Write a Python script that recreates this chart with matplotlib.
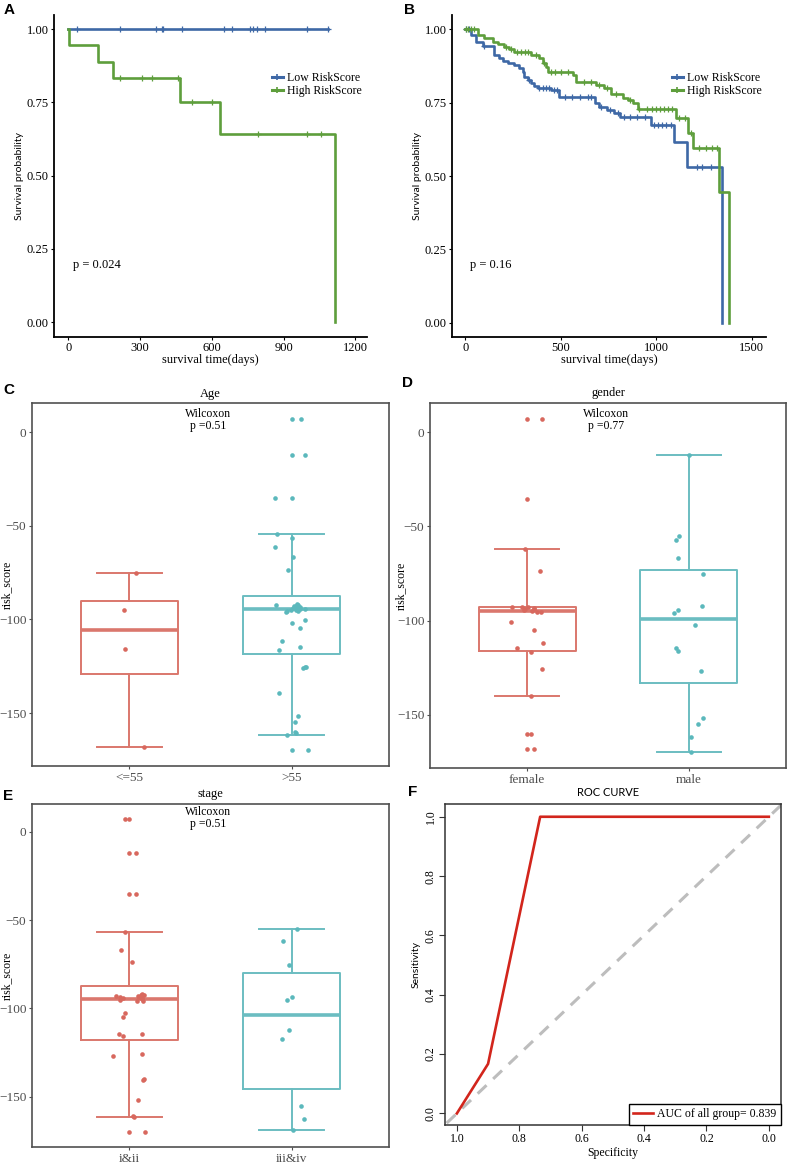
import numpy as np
import matplotlib.pyplot as plt
from matplotlib.lines import Line2D

plt.rcParams['font.family'] = ['Liberation Serif', 'DejaVu Serif']
plt.rcParams['axes.unicode_minus'] = True

W, H = 788, 1163
SANS = ['Lato', 'DejaVu Sans']
BLUE = '#3E68A6'
GREEN = '#5E9E3C'
BOX_RED = '#DA776D'
BOX_TEAL = '#6BBDC1'
PT_RED = '#D8685E'
PT_TEAL = '#5BB8BC'

# ---- A: KM, first cohort ----
a_low_t = [0, 1086]
a_low_s = [1.0, 1.0]
a_low_cens = [35, 218, 368, 393, 396, 476, 653, 683, 760, 774, 789, 821, 1000, 1086]
a_high_t = [0, 3, 122, 188, 467, 635, 1115]
a_high_s = [1.0, 0.944, 0.889, 0.833, 0.75, 0.643, 0.0]
a_high_cens = [218, 310, 349, 458, 518, 599, 793, 1000, 1058]

# ---- B: KM, second cohort ----
b_low_t = [0, 30, 56, 91, 152, 178, 195, 222, 257, 283, 300, 309, 326, 343, 361, 378, 448,
           492, 680, 698, 744, 779, 808, 972, 1094, 1159, 1347]
b_low_s = [1.0, 0.981, 0.958, 0.943, 0.912, 0.902, 0.893, 0.884, 0.878, 0.867, 0.856, 0.836,
           0.827, 0.818, 0.807, 0.799, 0.793, 0.770, 0.748, 0.736, 0.725, 0.716, 0.702, 0.674,
           0.617, 0.530, 0.0]
b_low_cens = [5, 20, 100, 335, 385, 405, 420, 440, 462, 480, 520, 560, 600, 640, 660, 712,
              760, 800, 830, 860, 900, 940, 990, 1010, 1030, 1050, 1075, 1215, 1240, 1285]
b_high_t = [0, 65, 99, 143, 169, 204, 230, 257, 344, 387, 405, 422, 431, 562, 579, 684, 728,
            763, 824, 850, 876, 902, 1103, 1164, 1190, 1330, 1379]
b_high_s = [1.0, 0.981, 0.969, 0.958, 0.950, 0.941, 0.932, 0.922, 0.913, 0.902, 0.886, 0.873,
            0.856, 0.844, 0.822, 0.810, 0.799, 0.778, 0.767, 0.759, 0.748, 0.727, 0.697, 0.648,
            0.594, 0.444, 0.0]
b_high_cens = [3, 15, 30, 45, 215, 240, 270, 290, 310, 330, 370, 410, 450, 470, 500, 540, 620,
               660, 700, 740, 790, 860, 910, 950, 980, 1000, 1020, 1040, 1060, 1080, 1120, 1150,
               1180, 1225, 1260, 1290, 1320]

# ---- C: age ----
age_labels = ['<=55', '>55']
age_le55 = [-75, -95, -116, -168]
age_le55_jit = [0.04, -0.035, -0.025, 0.09]
age_gt55 = [6.8, 6.8, -12.1, -12.1, -35.2, -35.2, -54.6, -56.5, -61.5, -66.8, -73.6,
            -92.0, -92.3, -92.5, -92.8, -93.0, -93.2, -93.4, -93.6, -94.0, -94.2, -94.6, -94.8,
            -95.0, -95.3, -95.5, -96.0,
            -100.3, -102.1, -104.4, -111.5, -114.5, -116.3,
            -125.2, -125.5, -126.0, -139.4, -151.6, -154.6, -160.3, -160.5, -161.8, -170, -170]
age_gt55_jit = [0.0, 0.06, 0.0, 0.08, -0.10, 0.0, -0.09, 0.0, -0.10, 0.01, -0.02,
                0.03, 0.04, -0.094, 0.014, 0.029, 0.02, 0.049, 0.039, 0.01, 0.05, 0.085, 0.025,
                -0.006, 0.04, -0.03, -0.037,
                0.08, 0.0, 0.05, -0.06, 0.05, -0.08,
                0.09, 0.085, 0.07, -0.08, 0.04, 0.02, 0.02, 0.025, -0.03, 0.0, 0.1]

# ---- D: gender ----
gender_labels = ['female', 'male']
female = [7, 7, -35.6, -62, -73.7,
          -92.6, -92.8, -93.0, -93.3, -93.6, -94.0, -94.4, -94.8, -95.2, -95.5,
          -100.5, -104.8, -111.7, -114.8, -116.6, -125.5, -140, -160.3, -160.3, -168.3, -168.3]
female_jit = [0.0, 0.09, 0.0, -0.01, 0.08,
              -0.096, -0.031, 0.006, 0.041, 0.045, -0.015, -0.02, 0.03, 0.06, 0.086,
              -0.1, 0.04, 0.1, -0.06, 0.025, 0.09, 0.025, 0.0, 0.025, 0.0, 0.045]
male = [-12, -55, -57, -67, -75.5, -92, -94.6, -95.8, -102.3, -114.5, -116, -126.6,
        -151.8, -155, -162, -170]
male_jit = [0.0, -0.06, -0.08, -0.07, 0.09, 0.08, -0.07, -0.09, 0.035, -0.08, -0.07, 0.075,
            0.09, 0.055, 0.01, 0.01]

# ---- E: stage ----
stage_labels = ['i&ii', 'iii&iv']
stage_12 = [7, 7, -12, -12, -35.3, -35.3, -57, -67, -73.6,
            -92.0, -92.3, -92.6, -92.9, -93.1, -93.3, -93.6, -93.9, -94.2, -94.6, -95.3, -95.6,
            -96.0,
            -102.3, -104.7, -114.5, -114.5, -115.6,
            -125.5, -126.7, -139.8, -140.2, -151.9, -161, -161.3, -170, -170]
stage_12_jit = [-0.025, -0.005, 0.0, 0.04, 0.0, 0.04, -0.027, -0.053, 0.015,
                0.08, 0.07, 0.09, 0.055, -0.082, -0.057, 0.06, 0.076, -0.037, 0.08, -0.06,
                0.05, 0.085,
                -0.025, -0.037, -0.064, 0.08, -0.04,
                0.076, -0.1, 0.09, 0.085, 0.056, 0.025, 0.03, 0.0, 0.097]
stage_34 = [-54.8, -61.9, -75.5, -93.5, -95.3, -112.2, -117, -155.3, -162.4, -168.8]
stage_34_jit = [0.03, -0.056, -0.014, 0.004, -0.03, -0.014, -0.058, 0.058, 0.076, 0.01]

# ---- F: ROC ----
roc_spec = [1.0, 0.9, 0.733, 0.0]
roc_sens = [0.0, 0.167, 1.0, 1.0]
auc_value = 0.839


fig = plt.figure(figsize=(W / 100, H / 100), dpi=100)


def add_ax(l, t, r, b):
    return fig.add_axes([l / W, 1 - b / H, (r - l) / W, (b - t) / H])


def ftext(x, y, s, **kw):
    fig.text(x / W, 1 - y / H, s, **kw)


def surv_at(ts, times, surv):
    idx = np.searchsorted(times, ts, side='right') - 1
    return np.asarray(surv)[idx]


def km_panel(ax, curves, xlim, ylim, xticks, ptext, p_xy, leg_xy):
    handles = []
    for times, surv, cens, color, label in curves:
        ax.step(times, surv, where='post', color=color, lw=1.9)
        ax.plot(cens, surv_at(cens, times, surv), ls='none', marker='+', ms=5,
                mew=0.9, color=color)
        handles.append(Line2D([], [], color=color, lw=2.2, marker='+', ms=5, mew=1.2,
                              label=label))
    ax.set_xlim(*xlim)
    ax.set_ylim(*ylim)
    ax.set_xticks(xticks)
    ax.set_yticks([0, 0.25, 0.5, 0.75, 1.0])
    ax.set_yticklabels(['0.00', '0.25', '0.50', '0.75', '1.00'])
    for s in ['top', 'right']:
        ax.spines[s].set_visible(False)
    for s in ['left', 'bottom']:
        ax.spines[s].set_linewidth(1.3)
    ax.tick_params(length=2.5, width=0.8, labelsize=9, pad=1.5)
    ax.tick_params(axis='x', pad=1)
    ax.set_xlabel('survival time(days)', fontsize=9, labelpad=0)
    ax.set_ylabel('Survival probability', fontsize=7.5, family=SANS, labelpad=2)
    ftext(p_xy[0], p_xy[1], ptext, fontsize=9, va='center')
    fig.legend(handles=handles, loc='upper left', bbox_to_anchor=(leg_xy[0] / W, 1 - leg_xy[1] / H),
               frameon=False, fontsize=8.5, handlelength=0.9, handletextpad=0.4,
               labelspacing=0.1, borderpad=0, borderaxespad=0)


def box_panel(ax, groups, labels, title, ptext, title_y, ptext_y, label_dx):
    data = [g[0] for g in groups]
    bp = ax.boxplot(data, positions=[1, 2], widths=0.6, whis=1.5, showfliers=False,
                    capwidths=0.4)
    for i, col in enumerate([BOX_RED, BOX_TEAL]):
        arts = [bp['boxes'][i], bp['medians'][i], bp['whiskers'][2 * i],
                bp['whiskers'][2 * i + 1], bp['caps'][2 * i], bp['caps'][2 * i + 1]]
        for art in arts:
            art.set_color(col)
            art.set_linewidth(1.4)
        bp['medians'][i].set_linewidth(2.6)
    for i, (vals, jit) in enumerate(groups):
        col = [PT_RED, PT_TEAL][i]
        ax.scatter(np.array(jit) + i + 1, vals, s=11, color=col, lw=0, zorder=3)
    ax.set_xlim(0.4, 2.6)
    ax.set_ylim(-178.3, 15.6)
    ax.set_xticks([1, 2])
    ax.set_xticklabels(labels)
    ax.set_yticks([0, -50, -100, -150])
    for s in ax.spines.values():
        s.set_color('#505050')
        s.set_linewidth(1.2)
    ax.tick_params(length=2.5, width=0.8, color='#505050', labelcolor='#4D4D4D',
                   labelsize=9.5, pad=1.5)
    ax.set_ylabel('risk_score', fontsize=8.5)
    box = ax.get_position()
    # the label's right edge sits between the tick labels, left of the frame
    ax.yaxis.set_label_coords(-label_dx / (box.width * W), 0.5)
    cx = (box.x0 + box.x1) / 2 * W
    ftext(cx, title_y, title, fontsize=9, ha='center', va='center')
    ftext(cx - 2, ptext_y, 'Wilcoxon\np =' + ptext, fontsize=8.5, ha='center', va='center',
          multialignment='center', linespacing=1.05)


# A
axA = add_ax(54, 15, 367, 337)
km_panel(axA, [(a_low_t, a_low_s, a_low_cens, BLUE, 'Low RiskScore'),
               (a_high_t, a_high_s, a_high_cens, GREEN, 'High RiskScore')],
         (-60, 1249), (-0.051, 1.048), [0, 300, 600, 900, 1200], 'p = 0.024', (73, 265),
         (272, 72))

# B
axB = add_ax(452, 15, 766, 337)
km_panel(axB, [(b_low_t, b_low_s, b_low_cens, BLUE, 'Low RiskScore'),
               (b_high_t, b_high_s, b_high_cens, GREEN, 'High RiskScore')],
         (-70, 1575), (-0.049, 1.049), [0, 500, 1000, 1500], 'p = 0.16', (470, 265),
         (672, 72))

# C
axC = add_ax(32, 403, 389, 766)
box_panel(axC, [(age_le55, age_le55_jit), (age_gt55, age_gt55_jit)], age_labels, 'Age',
          '0.51', 394, 420, 19)

# D
axD = add_ax(430, 403, 786, 768)
box_panel(axD, [(female, female_jit), (male, male_jit)], gender_labels, 'gender',
          '0.77', 393, 420, 23)

# E
axE = add_ax(32, 804, 389, 1147)
box_panel(axE, [(stage_12, stage_12_jit), (stage_34, stage_34_jit)], stage_labels, 'stage',
          '0.51', 794, 818, 19)

# F
axF = add_ax(445, 804, 781, 1125)
axF.axline((1, 0), (0, 1), color='#BDBDBD', lw=2.2, ls=(0, (4, 3)))
axF.plot(roc_spec, roc_sens, color='#D2251C', lw=1.9,
         label='AUC of all group= %.3f' % auc_value)
axF.set_xlim(1.038, -0.039)
axF.set_ylim(-0.039, 1.043)
axF.set_xticks([1.0, 0.8, 0.6, 0.4, 0.2, 0.0])
axF.set_yticks([0.0, 0.2, 0.4, 0.6, 0.8, 1.0])
axF.set_xticklabels(['1.0', '0.8', '0.6', '0.4', '0.2', '0.0'])
axF.set_yticklabels(['0.0', '0.2', '0.4', '0.6', '0.8', '1.0'], rotation=90, va='center')
for s in axF.spines.values():
    s.set_color('#333333')
    s.set_linewidth(1.1)
axF.tick_params(length=4, width=0.8, labelsize=8.5, pad=2, color='#333333')
axF.set_xlabel('Specificity', fontsize=8.5, labelpad=1)
axF.set_ylabel('Sensitivity', fontsize=7.5, family=SANS, labelpad=3)
axF.legend(loc='lower right', borderaxespad=0, fancybox=False, edgecolor='black',
           framealpha=1, fontsize=8.5, handlelength=1.7, handletextpad=0.3, borderpad=0.4)
ftext(608, 793, 'ROC CURVE', fontsize=8, family=SANS, ha='center', va='center')

# panel letters
for letter, x, y in [('A', 4, 10), ('B', 404, 10), ('C', 3, 390), ('D', 402, 383),
                     ('E', 3, 796), ('F', 408, 792)]:
    ftext(x, y, letter, fontsize=11, fontweight='bold', family=['Liberation Sans', 'DejaVu Sans'],
          va='center')

fig.savefig('out.png', dpi=100)
